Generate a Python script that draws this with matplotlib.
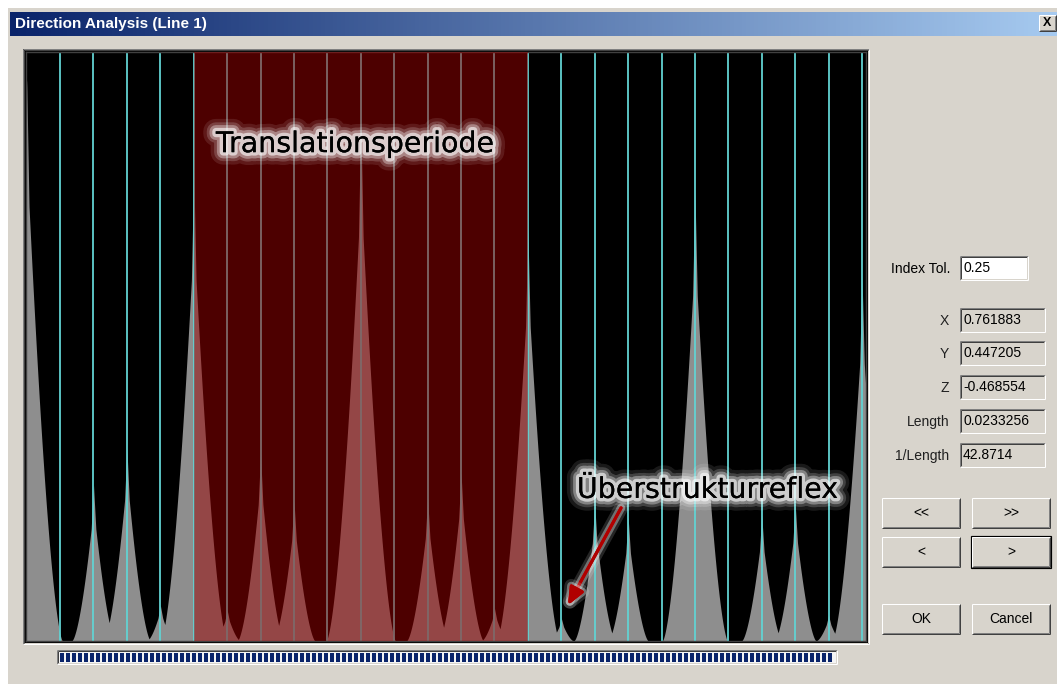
import numpy as np
import matplotlib.pyplot as plt
import matplotlib.patheffects as pe
from matplotlib.patches import Rectangle
from matplotlib.colors import LinearSegmentedColormap

# Intensity profile along line 1: one reflection per lattice index
peak_index = np.arange(26)
peak_height = np.array([95.6, 0.0, 26.5, 32.8, 6.1, 80.0, 5.3, 31.9, 23.9, 0.0,
                        89.0, 0.0, 24.4, 28.7, 5.6, 70.1, 3.9, 23.4, 21.1, 0.0,
                        76.6, 0.0, 21.4, 23.4, 4.4, 62.1])
grid_index = np.arange(1, 26)
period_span = (5, 15)
superlattice_index = 16

index_tol = "0.25"
field_names = ["X", "Y", "Z", "Length", "1/Length"]
field_values = ["0.761883", "0.447205", "-0.468554", "0.0233256", "42.8714"]
nav_buttons = ["<<", ">>", "<", ">"]

W, H = 1057, 684
FACE = "#d8d4cc"
NAVY = "#0a246a"
UI_FONT = "Liberation Sans"


def peak_shape(d, h):
    # broad foot that grows with the reflection strength, thin spike on top
    if h <= 0:
        return np.zeros_like(d)
    width = 0.195 + 0.09 * np.sqrt(h)
    u = np.abs(d) / width
    foot = np.clip(1 - u, 0, None) ** 1.6
    spike = np.clip(1 - np.abs(d) / 0.07, 0, None)
    return h * (0.86 * foot + 0.14 * spike)


def lw_px(n):
    return n * 72 / 100


def bevel(ax, x0, y0, x1, y1, face, sunken=False):
    ax.add_patch(Rectangle((x0, y0), x1 - x0, y1 - y0, facecolor=face, edgecolor="none"))
    if sunken:
        outer_tl, inner_tl, outer_br, inner_br = "#808080", "#404040", "white", FACE
    else:
        outer_tl, inner_tl, outer_br, inner_br = "white", FACE, "#404040", "#808080"
    kw = dict(lw=lw_px(1), solid_capstyle="butt")
    ax.plot([x0, x1], [y0, y0], color=outer_tl, **kw)
    ax.plot([x0, x0], [y0, y1], color=outer_tl, **kw)
    ax.plot([x0 + 1, x1 - 1], [y0 + 1, y0 + 1], color=inner_tl, **kw)
    ax.plot([x0 + 1, x0 + 1], [y0 + 1, y1 - 1], color=inner_tl, **kw)
    ax.plot([x0, x1], [y1, y1], color=outer_br, **kw)
    ax.plot([x1, x1], [y0, y1], color=outer_br, **kw)
    ax.plot([x0 + 1, x1 - 1], [y1 - 1, y1 - 1], color=inner_br, **kw)
    ax.plot([x1 - 1, x1 - 1], [y0 + 1, y1 - 1], color=inner_br, **kw)


fig = plt.figure(figsize=(W / 100, H / 100), dpi=100)
fig.patch.set_facecolor("white")

# dialog window drawn in pixel coordinates
bg = fig.add_axes([0, 0, 1, 1], zorder=0)
bg.axis("off")
bg.add_patch(Rectangle((8, 8), W - 8, H - 8, facecolor=FACE, edgecolor="none"))

title_cmap = LinearSegmentedColormap.from_list("title", [NAVY, "#a6caf0"])
bg.imshow(np.linspace(0, 1, 256)[None, :], extent=(10, W, 36, 12), aspect="auto",
          cmap=title_cmap, zorder=1)
bg.text(15, 24, "Direction Analysis (Line 1)", color="white", fontsize=11,
        fontweight="bold", family=UI_FONT, va="center", ha="left", zorder=2)
bevel(bg, 1039, 15, 1056, 31, FACE)
bg.text(1047.5, 23.5, "X", fontsize=9, fontweight="bold", family=UI_FONT,
        ha="center", va="center", zorder=3)

# plot frame
bevel(bg, 23, 49, 869, 644, "black", sunken=True)

# right-hand panel
bg.text(950, 269, "Index Tol.", fontsize=10, family=UI_FONT, ha="right", va="center")
bevel(bg, 960, 256, 1028, 280, "white", sunken=True)
bg.text(964, 268, index_tol, fontsize=10, family=UI_FONT, ha="left", va="center")

field_top = [308, 341, 375, 409, 443]
for name, value, top in zip(field_names, field_values, field_top):
    bg.text(949, top + 13, name, fontsize=10, family=UI_FONT, ha="right", va="center",
            color="#202020")
    bevel(bg, 960, top, 1045, top + 24, FACE, sunken=True)
    bg.text(963, top + 12, value, fontsize=10, family=UI_FONT, ha="left", va="center")

button_boxes = [(882, 498), (972, 498), (882, 537), (972, 537)]
for label, (bx, by) in zip(nav_buttons, button_boxes):
    bevel(bg, bx, by, bx + 78, by + 30, FACE)
    bg.text(bx + 39, by + 15, label, fontsize=10, family=UI_FONT, ha="center", va="center")
# default button outline
bg.add_patch(Rectangle((971, 536), 80, 32, facecolor="none", edgecolor="black", lw=lw_px(1.2)))

for label, bx in [("OK", 882), ("Cancel", 972)]:
    bevel(bg, bx, 604, bx + 78, 634, FACE)
    bg.text(bx + 39, 619, label, fontsize=10, family=UI_FONT, ha="center", va="center")

# progress bar under the profile
bevel(bg, 57, 650, 837, 664, "#f4f4f4", sunken=True)
for bx in np.arange(60, 832, 6):
    bg.add_patch(Rectangle((bx, 652.5), 4, 9.5, facecolor=NAVY, edgecolor="none"))

bg.set_xlim(0, W)
bg.set_ylim(H, 0)

# intensity profile (each point takes the strongest overlapping reflection)
ax = fig.add_axes([26 / W, 1 - 641 / H, 840 / W, 589 / H], zorder=2)
ax.set_facecolor("black")
xs = np.linspace(-0.02, 25.12, 8000)
profile = np.zeros_like(xs)
for k, h in zip(peak_index, peak_height):
    profile = np.maximum(profile, peak_shape(xs - k, h))
ax.fill_between(xs, 0, profile, color="#8e8e8e", lw=0, zorder=1)

for k in grid_index:
    ax.axvline(k, color="#62d2d2", lw=1.3, zorder=2)

ax.axvspan(*period_span, color="#9a0000", alpha=0.5, lw=0, zorder=3)

glow = [pe.withStroke(linewidth=18, foreground=(1, 1, 1, 0.10)),
        pe.withStroke(linewidth=13, foreground=(1, 1, 1, 0.18)),
        pe.withStroke(linewidth=9, foreground=(1, 1, 1, 0.35)),
        pe.withStroke(linewidth=5, foreground=(1, 1, 1, 0.6)),
        pe.Normal()]

ax.text(9.83, 83.0, "Translationsperiode", ha="center", va="baseline",
        fontsize=20.5, family="DejaVu Sans", color="black", zorder=5, path_effects=glow)
ax.text(20.39, 24.3, "Überstrukturreflex", ha="center", va="baseline",
        fontsize=20.5, family="DejaVu Sans", color="black", zorder=5, path_effects=glow)

arrow = ax.annotate("", xy=(superlattice_index + 0.2, 6.1), xytext=(17.79, 22.6),
                    arrowprops=dict(arrowstyle="-|>,head_length=0.7,head_width=0.3",
                                    color="#b00000", lw=2.2, mutation_scale=15,
                                    shrinkA=0, shrinkB=0),
                    zorder=5)
arrow.arrow_patch.set_path_effects([pe.withStroke(linewidth=10, foreground=(1, 1, 1, 0.15)),
                                    pe.withStroke(linewidth=6, foreground=(1, 1, 1, 0.35)),
                                    pe.Normal()])

ax.set_xlim(-0.02, 25.12)
ax.set_ylim(0, 100)
ax.set_xticks([])
ax.set_yticks([])
for s in ax.spines.values():
    s.set_color("#404040")
    s.set_linewidth(1)

fig.savefig("out.png", dpi=100)
